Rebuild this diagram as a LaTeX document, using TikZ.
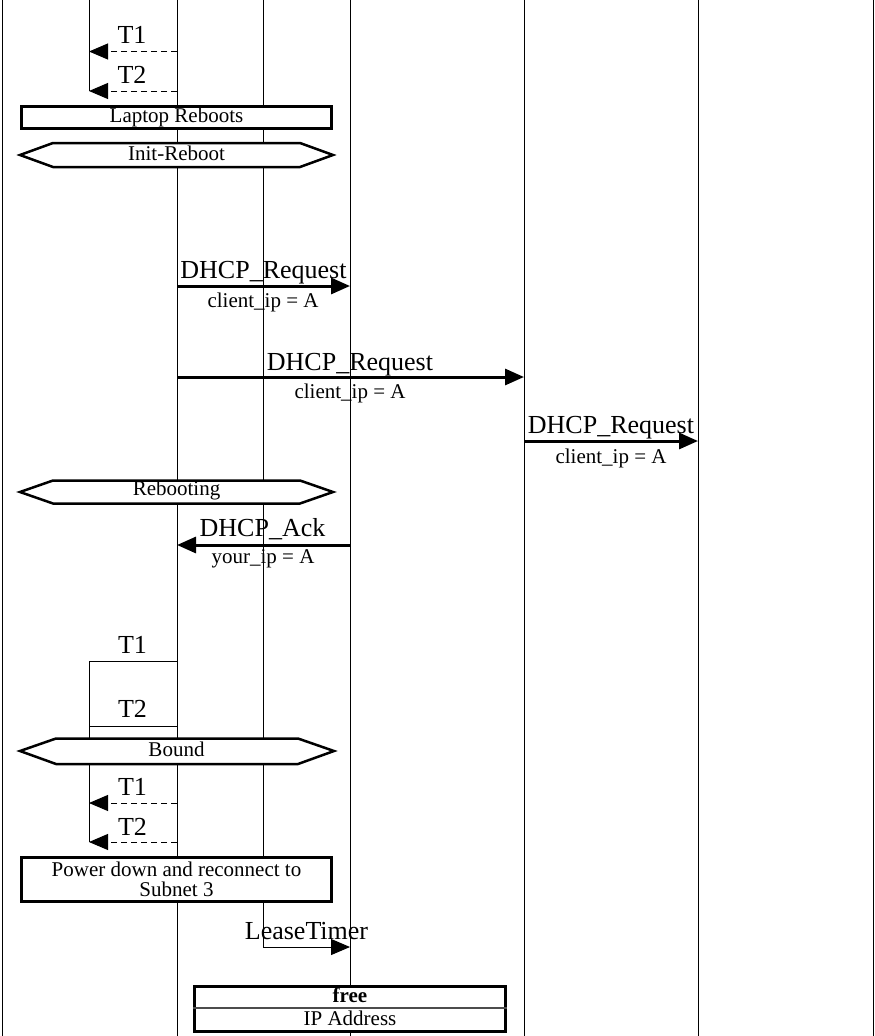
\documentclass[tikz,border=0pt]{standalone}
\usepackage{fontspec}
\setmainfont{Liberation Serif}
\usetikzlibrary{arrows.meta}
\begin{document}
\begin{tikzpicture}[x=1pt,y=-1pt,
  life/.style={line width=1pt},
  bighead/.style={-{Triangle[length=19pt,width=16pt]}},
  msg/.style={line width=3pt,bighead},
  timerarrow/.style={line width=1pt,dash pattern=on 6pt off 4pt,bighead},
  tline/.style={line width=1pt},
  big/.style={font=\fontsize{26}{28}\selectfont, inner sep=0pt, anchor=base},
  small/.style={font=\fontsize{21}{23}\selectfont, inner sep=0pt, anchor=base},
  notebox/.style={draw, line width=3pt, fill=white, inner sep=0pt, font=\fontsize{21}{20}\selectfont},
  hexline/.style={draw, line width=2.5pt, fill=white, line join=miter},
  hextext/.style={font=\fontsize{21}{23}\selectfont, inner sep=0pt},
]
\useasboundingbox (0,0) rectangle (875,1036);

% lifeline coordinates
\coordinate (L0t) at (2,0);     \coordinate (L0b) at (2,1036);
\coordinate (L1t) at (177,0);   \coordinate (L1b) at (177,1036);
\coordinate (L2t) at (263,0);   \coordinate (L2b) at (263,947);
\coordinate (L3t) at (350,0);   \coordinate (L3b) at (350,1036);
\coordinate (L4t) at (524,0);   \coordinate (L4b) at (524,1036);
\coordinate (L5t) at (698,0);   \coordinate (L5b) at (698,1036);
\coordinate (L6t) at (873,0);   \coordinate (L6b) at (873,1036);
\coordinate (Tat) at (89,0);    \coordinate (Tab) at (89,91);
\coordinate (Tbt) at (89,661);  \coordinate (Tbb) at (89,842);

\draw[life] (L0t) -- (L0b);
\draw[life] (L1t) -- (L1b);
\draw[life] (L2t) -- (L2b);
\draw[life] (L3t) -- (L3b);
\draw[life] (L4t) -- (L4b);
\draw[life] (L5t) -- (L5b);
\draw[life] (L6t) -- (L6b);
\draw[life] (Tat) -- (Tab);
\draw[life] (Tbt) -- (Tbb);

% top timers
\coordinate (t1a) at (177,51.5); \coordinate (t1b) at (89,51.5);
\coordinate (t2a) at (177,91);   \coordinate (t2b) at (89,91);
\draw[timerarrow] (t1a) -- (t1b);
\draw[timerarrow] (t2a) -- (t2b);
\node[big] (t1lab) at (132,43) {T1};
\node[big] (t2lab) at (132,83) {T2};

% Laptop Reboots
\node[notebox, minimum width=310pt, minimum height=22pt] (reboot) at (176.5,117.5) {Laptop Reboots};

% Init-Reboot
\draw[hexline] (20,155) -- (53,143) -- (300,143) -- (333,155) -- (300,167) -- (53,167) -- cycle;
\node[hextext] (initreboot) at (176.5,153) {Init-Reboot};

% DHCP requests
\coordinate (r1a) at (177,286); \coordinate (r1b) at (350,286);
\draw[msg] (r1a) -- (r1b);
\node[big] (r1lab) at (263.5,278) {DHCP\_Request};
\node[small] (r1sub) at (263,307) {client\_ip = A};

\coordinate (r2a) at (177,377); \coordinate (r2b) at (524,377);
\draw[msg] (r2a) -- (r2b);
\node[big] (r2lab) at (350,370) {DHCP\_Request};
\node[small] (r2sub) at (350,398) {client\_ip = A};

\coordinate (r3a) at (524,441); \coordinate (r3b) at (698,441);
\draw[msg] (r3a) -- (r3b);
\node[big] (r3lab) at (611,433) {DHCP\_Request};
\node[small] (r3sub) at (611,463) {client\_ip = A};

% Rebooting
\draw[hexline] (20,492) -- (53,480.5) -- (300,480.5) -- (333,492) -- (300,503.5) -- (53,503.5) -- cycle;
\node[hextext] (rebooting) at (176.5,490) {Rebooting};

% DHCP Ack
\coordinate (aa) at (350,545); \coordinate (ab) at (177,545);
\draw[msg] (aa) -- (ab);
\node[big] (acklab) at (262.5,536) {DHCP\_Ack};
\node[small] (acksub) at (263,563) {your\_ip = A};

% middle timer lines
\coordinate (m1a) at (177,661.5); \coordinate (m1b) at (89,661.5);
\coordinate (m2a) at (177,726);   \coordinate (m2b) at (89,726);
\draw[tline] (m1a) -- (m1b);
\draw[tline] (m2a) -- (m2b);
\node[big] (m1lab) at (132.5,653) {T1};
\node[big] (m2lab) at (132.5,717) {T2};

% Bound
\draw[hexline] (20,751) -- (56,738.5) -- (298,738.5) -- (334,751) -- (298,764) -- (56,764) -- cycle;
\node[hextext] (bound) at (176.5,749.5) {Bound};

% lower timers
\coordinate (l1a) at (177,803); \coordinate (l1b) at (89,803);
\coordinate (l2a) at (177,842); \coordinate (l2b) at (89,842);
\draw[timerarrow] (l1a) -- (l1b);
\draw[timerarrow] (l2a) -- (l2b);
\node[big] (l1lab) at (132.5,795) {T1};
\node[big] (l2lab) at (132.5,835) {T2};

% Power down box
\node[notebox, minimum width=310pt, minimum height=44pt, align=center] (power) at (176.5,879.5) {Power down and reconnect to\\Subnet 3};

% Lease timer
\coordinate (lta) at (263,947); \coordinate (ltb) at (350,947);
\draw[line width=1pt,bighead] (lta) -- (ltb);
\node[big] (ltlab) at (306.5,939) {LeaseTimer};

% free / IP Address box
\node[draw, line width=3pt, fill=white, minimum width=311pt, minimum height=45pt, inner sep=0pt] (freebox) at (350,1009) {};
\draw[line width=1.5pt, black!70] ([yshift=1pt]freebox.west) -- ([yshift=1pt]freebox.east);
\node[small, font=\fontsize{21}{23}\selectfont\bfseries] (freelab) at (350,1002) {free};
\node[small] (iplab) at (350,1025) {IP Address};
\end{tikzpicture}
\end{document}
